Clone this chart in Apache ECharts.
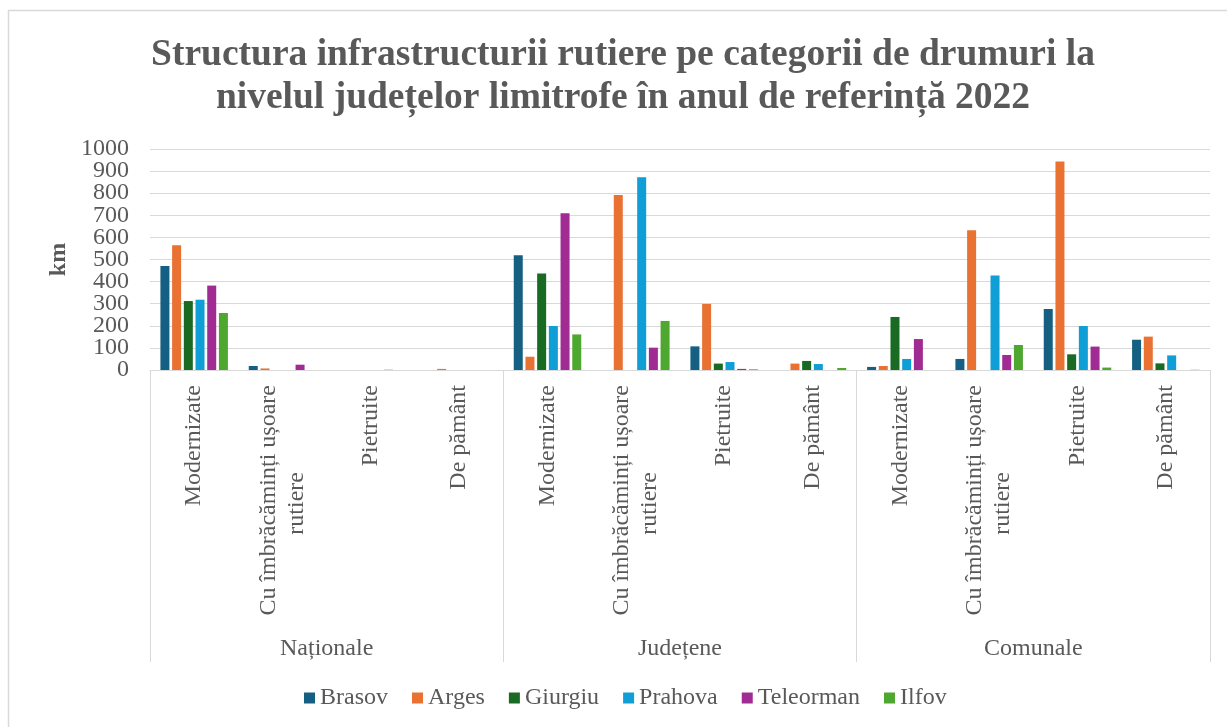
<!DOCTYPE html>
<html>
<head>
<meta charset="utf-8">
<script src="https://cdn.jsdelivr.net/npm/echarts@6/dist/echarts.min.js"></script>
<style>
  html, body { margin: 0; padding: 0; background: #ffffff; }
  #chart { width: 1227px; height: 727px; }
</style>
</head>
<body>
<div id="chart"></div>
<script>
// Road categories (repeated for each road class) and road classes
const roadTypes = ['Modernizate', 'Cu îmbrăcăminți ușoare\nrutiere', 'Pietruite', 'De pământ'];
const roadClasses = ['Naționale', 'Județene', 'Comunale'];
const categories = roadClasses.flatMap(() => roadTypes);

// Lengths in km, per county: 4 road types × 3 road classes
const brasov    = [471, 18, 0, 0,   519, 0, 107, 0,    14, 50, 276, 137];
const arges     = [564, 7, 0, 5,    60, 792, 299, 29,  18, 632, 944, 151];
const giurgiu   = [312, 0, 0, 0,    437, 0, 29, 41,    240, 0, 71, 30];
const prahova   = [318, 0, 0, 0,    199, 872, 36, 27,  50, 428, 199, 66];
const teleorman = [382, 24, 1, 0,   709, 101, 5, 0,    140, 68, 106, 0];
const ilfov     = [258, 0, 0, 0,    161, 222, 3, 9,    0, 113, 11, 1];

const seriesNames = ['Brasov', 'Arges', 'Giurgiu', 'Prahova', 'Teleorman', 'Ilfov'];
const seriesData = [brasov, arges, giurgiu, prahova, teleorman, ilfov];
const colors = ['#156082', '#E97132', '#196B24', '#0F9ED5', '#A02B93', '#4EA72E'];

const yTicks = { min: 0, max: 1000, interval: 100 };

const FONT = '"Liberation Serif", "Times New Roman", serif';
const TEXT = '#595959';
const LINE = '#d9d9d9';

const chart = echarts.init(document.getElementById('chart'), null, { renderer: 'canvas' });

// Category names are drawn on two stacked axes: the first line of each name
// hangs from the axis line, a second line (if any) is centred beneath it.
function firstLine(v) {
  const lines = v.split('\n');
  return lines.length > 1 ? lines[0] + '\n ' : v;
}
function secondLine(v) {
  const lines = v.split('\n');
  return lines.length > 1 ? ' \n' + lines[1] : '';
}

const labelBase = {
  interval: 0,
  rotate: 90,
  fontFamily: FONT,
  fontSize: 24,
  lineHeight: 28,
  color: TEXT
};

const yLabel = { margin: 21, fontFamily: FONT, fontSize: 24, color: TEXT, formatter: v => String(v) };

chart.setOption({
  animation: false,
  color: colors,
  textStyle: { fontFamily: FONT, color: TEXT },
  graphic: [{
    type: 'rect',
    shape: { x: 8.5, y: 10.5, width: 1240, height: 740 },
    style: { fill: 'none', stroke: LINE, lineWidth: 1.5 },
    silent: true
  }],
  title: {
    text: 'Structura infrastructurii rutiere pe categorii de drumuri la\nnivelul județelor limitrofe în anul de referință 2022',
    left: 618,
    top: 29,
    textAlign: 'center',
    textStyle: {
      fontFamily: FONT,
      fontWeight: 'bold',
      fontSize: 37.5,
      lineHeight: 43,
      color: TEXT
    }
  },
  legend: {
    data: seriesNames,
    left: 299,
    top: 681,
    icon: 'rect',
    itemWidth: 11,
    itemHeight: 11,
    itemGap: 24,
    textStyle: { fontFamily: FONT, fontSize: 24, color: TEXT }
  },
  grid: { left: 150, right: 17, top: 149, bottom: 357, containLabel: false },
  xAxis: [
    {
      type: 'category',
      position: 'bottom',
      data: categories,
      axisLine: { show: true, lineStyle: { color: LINE, width: 1 } },
      axisTick: { show: false },
      axisLabel: Object.assign({ margin: 15, formatter: firstLine }, labelBase)
    },
    {
      type: 'category',
      position: 'bottom',
      data: categories,
      axisLine: { show: false },
      axisTick: { show: false },
      axisLabel: Object.assign({ margin: 102, formatter: secondLine }, labelBase)
    },
    {
      type: 'category',
      position: 'bottom',
      data: roadClasses,
      axisLine: { show: false },
      axisTick: { show: true, interval: 0, length: 292, lineStyle: { color: LINE, width: 1 } },
      axisLabel: {
        interval: 0,
        margin: 267,
        fontFamily: FONT,
        fontSize: 24,
        color: TEXT
      }
    }
  ],
  yAxis: [
    {
      // inner ticks 100 … 900 with the grid lines
      type: 'value',
      position: 'left',
      min: yTicks.min,
      max: yTicks.max,
      interval: yTicks.interval,
      name: 'km',
      nameLocation: 'middle',
      nameGap: 79,
      nameRotate: 90,
      nameTextStyle: { fontFamily: FONT, fontWeight: 'bold', fontSize: 24, color: TEXT },
      axisLine: { show: false },
      axisTick: { show: false },
      axisLabel: Object.assign({ showMinLabel: false, showMaxLabel: false }, yLabel),
      splitLine: { lineStyle: { color: LINE, width: 1 } }
    },
    {
      // the two end ticks, 0 and 1000
      type: 'value',
      position: 'left',
      min: yTicks.min,
      max: yTicks.max,
      interval: yTicks.max - yTicks.min,
      axisLine: { show: false },
      axisTick: { show: false },
      axisLabel: Object.assign({ showMinLabel: true, showMaxLabel: true }, yLabel),
      splitLine: { show: false }
    }
  ],
  series: seriesNames.map((name, i) => ({
    name: name,
    type: 'bar',
    xAxisIndex: 0,
    yAxisIndex: 0,
    data: seriesData[i],
    barWidth: 9,
    barGap: '30%',
    itemStyle: { color: colors[i] }
  }))
});
</script>
</body>
</html>
